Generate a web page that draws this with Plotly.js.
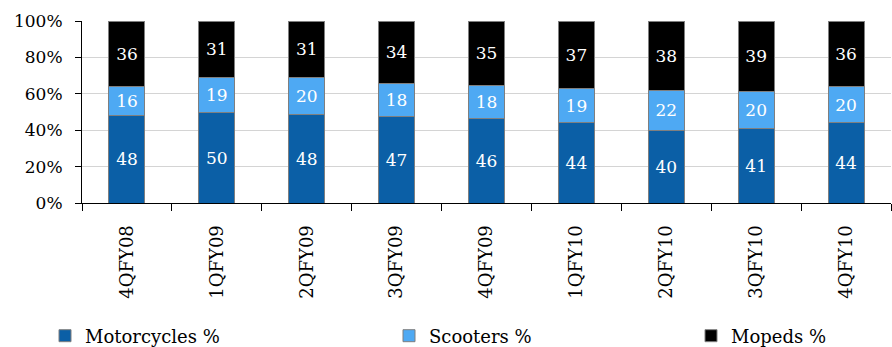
<!DOCTYPE html>
<html>
<head>
<meta charset="utf-8">
<script src="https://cdn.plot.ly/plotly-3.0.1.min.js"></script>
<style>html,body{margin:0;padding:0;background:#fff;}#chart{width:892px;height:347px;}</style>
</head>
<body>
<div id="chart"></div>
<script>
const categories = ['4QFY08','1QFY09','2QFY09','3QFY09','4QFY09','1QFY10','2QFY10','3QFY10','4QFY10'];
const motorcycles = [48, 50, 48, 47, 46, 44, 40, 41, 44];
const scooters = [16, 19, 20, 18, 18, 19, 22, 20, 20];
const mopeds = [36, 31, 31, 34, 35, 37, 38, 39, 36];
const seriesNames = ['Motorcycles %', 'Scooters %', 'Mopeds %'];
const yTicks = [0, 20, 40, 60, 80, 100];

const FONT = 'DejaVu Serif, serif';
const colors = ['#0b5fa6', '#4ea9f3', '#000000'];
const data = [motorcycles, scooters, mopeds];
const legendIds = ['legend', 'legend2', 'legend3'];

const traces = data.map((vals, i) => ({
  type: 'bar',
  name: seriesNames[i],
  x: categories,
  y: vals,
  text: vals.map(String),
  texttemplate: '%{text}',
  textposition: 'inside',
  insidetextanchor: 'middle',
  textangle: 0,
  insidetextfont: {family: FONT, size: 17, color: '#ffffff'},
  marker: {color: colors[i], line: {color: '#7f7f7f', width: 1}},
  width: 0.4,
  hoverinfo: 'skip',
  legend: legendIds[i]
}));

const L = 82, R = 891, T = 21, B = 203, W = 892, H = 347;
const cx = v => v / W;
const cy = v => 1 - v / H;
const legBase = {orientation: 'h', xanchor: 'left', yanchor: 'middle', xref: 'container', yref: 'container',
  bgcolor: 'rgba(0,0,0,0)', font: {family: FONT, size: 18, color: '#000'}, borderwidth: 0,
  itemclick: false, itemdoubleclick: false};

const layout = {
  width: W, height: H,
  margin: {l: L, r: W - R, t: T, b: H - B, pad: 0, autoexpand: false},
  paper_bgcolor: '#ffffff', plot_bgcolor: '#ffffff',
  barmode: 'stack', barnorm: 'percent',
  font: {family: FONT, size: 17, color: '#000'},
  showlegend: true,
  xaxis: {
    type: 'category', tickson: 'boundaries', ticks: 'outside', ticklen: 7, tickcolor: '#000', tickwidth: 1,
    showline: true, linecolor: '#000', linewidth: 1, showgrid: false, automargin: false,
    tickangle: -90, tickfont: {family: FONT, size: 18, color: '#000'},
    ticklabelstandoff: 14, range: [-0.5, 8.5], fixedrange: true
  },
  yaxis: {
    range: [0, 100], tickvals: yTicks, ticktext: yTicks.map(v => v + '%'),
    ticks: 'outside', ticklen: 6, tickcolor: '#000', tickwidth: 1,
    showline: true, linecolor: '#000', linewidth: 1, automargin: false,
    showgrid: true, gridcolor: '#d4d4d4', gridwidth: 1, zeroline: false,
    tickfont: {family: FONT, size: 17, color: '#000'},
    ticklabelstandoff: 9, fixedrange: true
  },
  legend: Object.assign({}, legBase, {x: cx(45), y: cy(336)}),
  legend2: Object.assign({}, legBase, {x: cx(389), y: cy(336)}),
  legend3: Object.assign({}, legBase, {x: cx(691), y: cy(336)})
};

Plotly.newPlot('chart', traces, layout, {displayModeBar: false, staticPlot: true});
</script>
</body>
</html>
